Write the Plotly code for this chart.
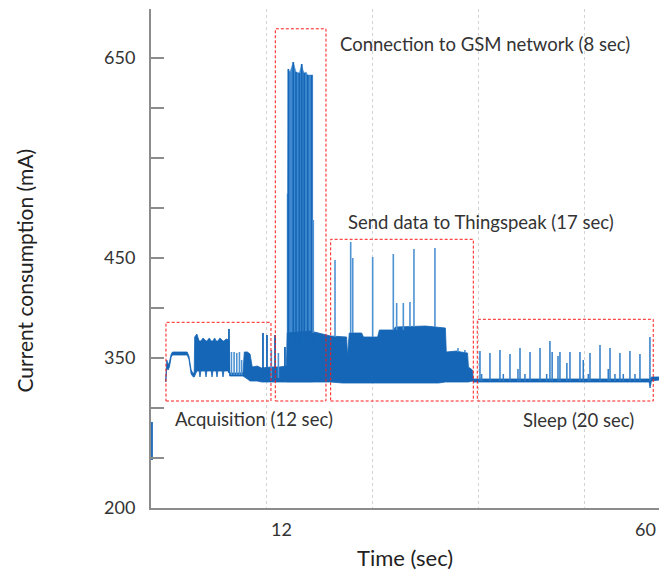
import plotly.graph_objects as go

# ---------------- data (time in s, current in mA) ----------------
# dense body of the current trace: time, upper envelope, lower envelope
body_t = [0.68, 0.72, 0.80, 0.95, 1.10, 1.30, 1.45, 3.10, 3.30, 3.55, 3.80, 3.90,
          3.95, 4.20, 4.45, 4.55, 4.65, 4.90, 5.13, 5.23, 5.33, 5.60, 5.81, 5.91,
          6.01, 6.20, 6.37, 6.47, 6.57, 6.80, 7.05, 7.15, 7.25, 7.50, 7.85, 7.90,
          9.40, 9.55, 9.90, 10.20, 10.45, 11.00, 11.50, 12.50, 13.50, 14.30, 14.40,
          17.00, 19.30, 20.60, 21.10, 21.20, 21.30, 21.40, 22.80, 23.00, 24.60,
          24.80, 26.40, 26.60, 30.00, 31.50, 32.25, 32.35, 33.50, 34.00, 34.75,
          34.85, 35.30, 35.40, 55.25, 55.35, 55.50, 56.36]
body_top = [326, 345, 348, 343, 346, 354, 356, 356, 352, 338, 334, 336,
            371, 374, 367, 367, 367, 370, 367, 367, 367, 370, 367, 367,
            367, 370, 367, 367, 367, 370, 367, 367, 367, 369, 368, 335,
            335, 356, 356, 354, 341, 342, 340, 341, 341, 342, 375,
            377, 372, 371, 371, 352, 371, 375, 375, 371, 371,
            378, 378, 381, 382, 381, 380, 356, 357, 356, 355,
            341, 338, 329, 329, 329, 331, 331]
body_bot = [326, 326, 340, 338, 341, 351, 353, 353, 349, 334, 331, 331,
            331, 337, 337, 331, 337, 337, 337, 331, 337, 337, 337, 331,
            337, 337, 337, 331, 337, 337, 337, 331, 337, 337, 337, 332,
            332, 331, 329, 327, 327, 327, 326, 326, 326, 326, 326,
            326, 326, 325, 325, 325, 325, 325, 325, 325, 325,
            325, 325, 325, 325, 325, 326, 326, 326, 326, 326,
            326, 327, 326, 326, 320, 327, 328]

# GSM connection burst: envelope of the tall pulses
gsm_t = [14.35, 14.45, 14.52, 14.71, 15.08, 15.27, 15.39, 15.76, 16.03, 16.18,
         16.32, 16.51, 16.71, 16.91, 17.16, 17.27]
gsm_top = [514, 514, 639, 636, 646, 638, 636, 635, 644, 638,
           635, 636, 633, 633, 633, 633]
gsm_peak_t = [14.52, 15.08, 15.39, 15.76, 16.03, 16.32, 16.71, 17.16]
gsm_peak_v = [639, 646, 636, 635, 644, 635, 633, 633]

# dark spikes (time, base, peak)
dark_t = [-0.87, 7.82, 11.66, 12.11, 13.02, 14.14]
dark_base = [248, 335, 330, 330, 330, 330]
dark_peak = [286, 379, 375, 373, 373, 361]

# light spikes (time, base, peak)
light_t = [8.10, 8.40, 8.70, 9.00, 9.25, 12.60, 13.40, 17.34, 19.79, 21.56, 21.79,
           24.04, 26.37, 26.75, 27.50, 28.25, 28.70, 31.07, 33.67, 34.45]
light_base = [333, 333, 333, 333, 333, 330, 330, 375, 371, 375, 375,
              371, 378, 378, 378, 381, 381, 381, 356, 356]
light_peak = [356, 356, 355, 356, 348, 358, 355, 488, 448, 466, 450,
              451, 454, 405, 405, 406, 459, 460, 360, 358]

# sleep-mode wake-up pulses
sleep_t = [36.15, 37.28, 38.41, 39.54, 40.67, 41.80, 42.93, 44.05, 45.18, 46.31,
           47.44, 48.57, 49.70, 50.83, 51.95, 53.08, 54.21, 55.34,
           40.44, 44.30, 44.96, 45.96, 47.81, 50.63,
           36.34, 38.79, 41.23, 43.68, 48.38, 51.39, 52.33, 53.65]
sleep_peak = [357, 355, 358, 354, 360, 356, 360, 367, 356, 356,
              356, 355, 363, 360, 355, 357, 354, 371,
              339, 356, 352, 345, 348, 339,
              334, 334, 334, 334, 334, 334, 334, 334]
sleep_base = 327

# phase boxes: x0, x1, y0, y1 and labels
box_x0 = [0.71, 13.05, 19.30, 35.85]
box_x1 = [12.56, 18.77, 35.40, 55.71]
box_y0 = [307, 307, 307, 307]
box_y1 = [385.7, 679.2, 468.7, 388.7]
phase_labels = ["Acquisition (12 sec)", "Connection to GSM network (8 sec)",
                "Send data to Thingspeak (17 sec)", "Sleep (20 sec)"]
label_x = [10.7, 36.74, 36.3, 47.24]
label_y = [289, 664, 486, 288]

y_ticks = [200, 250, 300, 350, 400, 450, 500, 550, 600, 650]
y_ticktext = ["200", "", "", "350", "", "450", "", "", "", "650"]
grid_x = [12, 24, 36, 48]
x_label_pos = [13.8, 54.8]
x_label_text = ["12", "60"]

DARK = "#1566b6"
MID = "#2f7cc6"
LIGHT = "#4d92d3"


def segs(ts, b, p):
    xs, ys = [], []
    for t, lo, hi in zip(ts, b, p):
        xs += [t, t, None]
        ys += [lo, hi, None]
    return xs, ys


fig = go.Figure()

# GSM burst envelope (behind the dense body)
fig.add_trace(go.Scatter(x=gsm_t + gsm_t[::-1], y=gsm_top + [326] * len(gsm_t),
                         mode="lines", fill="toself", fillcolor="#3e89cf",
                         line=dict(color="#3e89cf", width=0.5), hoverinfo="skip",
                         showlegend=False))
# dense body
fig.add_trace(go.Scatter(x=body_t + body_t[::-1], y=body_top + body_bot[::-1],
                         mode="lines", fill="toself", fillcolor=DARK,
                         line=dict(color=DARK, width=0.8), hoverinfo="skip",
                         showlegend=False))
xs, ys = segs(gsm_peak_t, [360] * len(gsm_peak_t), gsm_peak_v)
fig.add_trace(go.Scatter(x=xs, y=ys, mode="lines", line=dict(color=DARK, width=1.6),
                         hoverinfo="skip", showlegend=False))
xs, ys = segs(light_t, light_base, light_peak)
fig.add_trace(go.Scatter(x=xs, y=ys, mode="lines", line=dict(color=LIGHT, width=1.6),
                         hoverinfo="skip", showlegend=False))
xs, ys = segs(dark_t, dark_base, dark_peak)
fig.add_trace(go.Scatter(x=xs, y=ys, mode="lines", line=dict(color=DARK, width=1.8),
                         hoverinfo="skip", showlegend=False))
xs, ys = segs(sleep_t, [sleep_base] * len(sleep_t), sleep_peak)
fig.add_trace(go.Scatter(x=xs, y=ys, mode="lines", line=dict(color=MID, width=1.5),
                         hoverinfo="skip", showlegend=False))

shapes = []
for x0, x1, y0, y1 in zip(box_x0, box_x1, box_y0, box_y1):
    shapes.append(dict(type="rect", xref="x", yref="y", x0=x0, x1=x1, y0=y0, y1=y1,
                       line=dict(color="#ff1a1a", width=1, dash="3px,2px")))

FONT = "Lato"
TXT = "#333333"
annotations = []
for txt, lx, ly in zip(phase_labels, label_x, label_y):
    annotations.append(dict(x=lx, y=ly, xref="x", yref="y", text=txt, showarrow=False,
                            font=dict(family=FONT, size=18.5, color=TXT)))
for pos, txt in zip(x_label_pos, x_label_text):
    annotations.append(dict(x=pos, y=0, xref="x", yref="paper", yanchor="middle",
                            yshift=-21, text=txt, showarrow=False,
                            font=dict(family=FONT, size=18, color=TXT)))
annotations.append(dict(x=0, y=0.5, xref="paper", yref="paper", xanchor="center",
                        xshift=-127, yshift=-12,
                        text="Current consumption (mA)", textangle=-90, showarrow=False,
                        font=dict(family=FONT, size=21, color="#222222")))
annotations.append(dict(x=0, y=0, xref="paper", yref="paper", xanchor="center",
                        xshift=254, yshift=-49, yanchor="middle", text="Time (sec)",
                        showarrow=False,
                        font=dict(family=FONT, size=22, color="#222222")))

fig.update_layout(
    width=659, height=571, autosize=False,
    margin=dict(l=151, r=0, t=9, b=63, pad=0),
    paper_bgcolor="white", plot_bgcolor="white",
    shapes=shapes, annotations=annotations,
    xaxis=dict(range=[-0.98, 56.36], showline=True, linecolor="#8c8c8c", linewidth=2,
               tickvals=grid_x, showticklabels=False, ticks="", showgrid=True,
               gridcolor="#d2d2d2", griddash="dot", gridwidth=1, zeroline=False),
    yaxis=dict(range=[200, 699], showline=True, linecolor="#8c8c8c", linewidth=2,
               tickvals=y_ticks, ticktext=y_ticktext, ticks="inside", ticklen=13,
               tickcolor="#8c8c8c", tickwidth=1.5, showgrid=False, zeroline=False,
               ticklabelstandoff=10,
               tickfont=dict(family=FONT, size=18, color=TXT)),
)

# remove the default page margin so the 659x571 figure fills the window exactly
page_fix = ("document.body.style.margin='0';"
            "document.body.style.overflow='hidden';"
            "document.documentElement.style.overflow='hidden';")
fig.write_html("out.html", post_script=page_fix, config={"displayModeBar": False})
